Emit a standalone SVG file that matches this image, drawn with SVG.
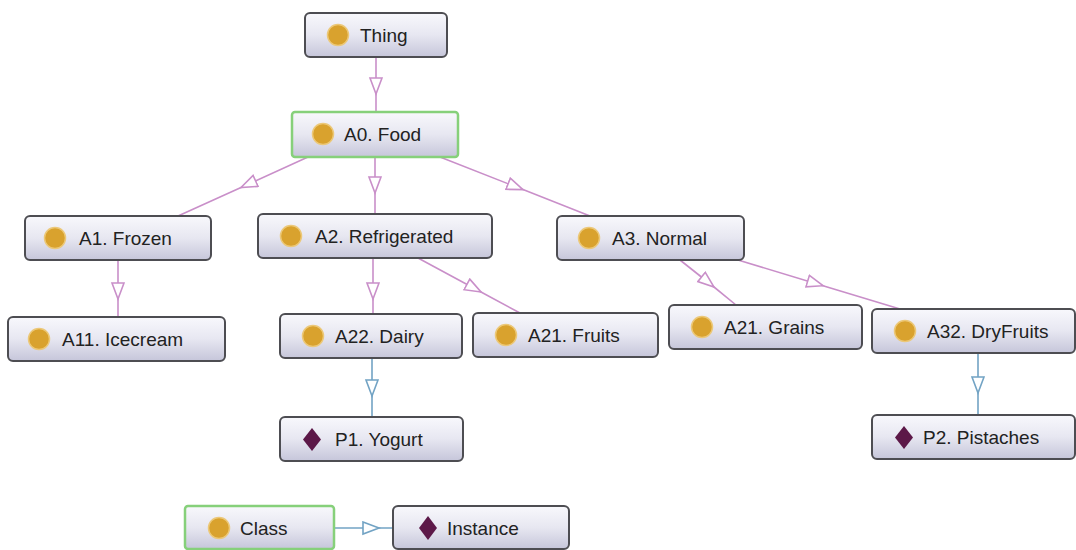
<svg xmlns="http://www.w3.org/2000/svg" width="1076" height="550" viewBox="0 0 1076 550">
<style>
.box{fill:url(#g);stroke:#4d4d52;stroke-width:2}
.sel{fill:url(#g);stroke:#86d07a;stroke-width:2.5}
.cls{fill:#d9a22e;stroke:#ecc878;stroke-width:1.5}
.ind{fill:#5c1848}
.t{font-family:"Liberation Sans",Arial,sans-serif;font-size:19px;fill:#222}
.e{fill:none;stroke:#c98fc9;stroke-width:1.6;marker-mid:url(#tp)}
.b{fill:none;stroke:#72a3c4;stroke-width:1.6;marker-mid:url(#tb)}
</style>
<defs>
<linearGradient id="g" x1="0" y1="0" x2="0" y2="1">
<stop offset="0" stop-color="#f8f8fc"/>
<stop offset="0.5" stop-color="#e7e7f1"/>
<stop offset="1" stop-color="#c6c6da"/>
</linearGradient>
<marker id="tp" markerUnits="userSpaceOnUse" markerWidth="20" markerHeight="16" refX="17" refY="7" orient="auto" viewBox="0 0 20 16">
<path d="M1,1 L17,7 L1,13 Z" fill="#fff" stroke="#c98fc9" stroke-width="1.6"/>
</marker>
<marker id="tb" markerUnits="userSpaceOnUse" markerWidth="20" markerHeight="16" refX="17" refY="7" orient="auto" viewBox="0 0 20 16">
<path d="M1,1 L17,7 L1,13 Z" fill="#fff" stroke="#72a3c4" stroke-width="1.6"/>
</marker>
</defs>
<rect width="1076" height="550" fill="#fff"/>
<g id="connectors">
<path class="e" d="M376,57 L376,94 L376,112"/>
<path class="e" d="M308,157 L241,187.5 L178,216"/>
<path class="e" d="M375,157 L375,193 L375,214"/>
<path class="e" d="M440,157 L523,189.6 L590,216"/>
<path class="e" d="M118,260 L118,299 L118,317"/>
<path class="e" d="M373,258 L373,299 L373,314"/>
<path class="e" d="M418,258 L481,292 L520,313"/>
<path class="e" d="M680,260 L714,287 L736,305"/>
<path class="e" d="M738,260 L823,285.7 L900,309"/>
<path class="b" d="M978,353 L978,393 L978,415"/>
<path class="b" d="M372,358 L372,396 L372,417"/>
<path class="b" d="M334,528 L379,528 L393,528"/>
</g>
<g id="thing"><rect class="box" x="305" y="13" width="142" height="44" rx="5"/><circle class="cls" cx="338" cy="35" r="10.5"/><text class="t" x="360" y="42">Thing</text></g>
<g id="food"><rect class="sel" x="292" y="112" width="166" height="45" rx="3"/><circle class="cls" cx="323" cy="134" r="10.5"/><text class="t" x="344" y="141">A0. Food</text></g>
<g id="frozen"><rect class="box" x="25" y="216" width="186" height="44" rx="5"/><circle class="cls" cx="55" cy="238" r="10.5"/><text class="t" x="79" y="245">A1. Frozen</text></g>
<g id="refrigerated"><rect class="box" x="258" y="214" width="234" height="44" rx="5"/><circle class="cls" cx="291" cy="236" r="10.5"/><text class="t" x="315" y="243">A2. Refrigerated</text></g>
<g id="normal"><rect class="box" x="557" y="216" width="187" height="44" rx="5"/><circle class="cls" cx="589" cy="238" r="10.5"/><text class="t" x="612" y="245">A3. Normal</text></g>
<g id="icecream"><rect class="box" x="8" y="317" width="217" height="44" rx="5"/><circle class="cls" cx="39" cy="339" r="10.5"/><text class="t" x="62" y="346">A11. Icecream</text></g>
<g id="dairy"><rect class="box" x="280" y="314" width="182" height="44" rx="5"/><circle class="cls" cx="313" cy="336" r="10.5"/><text class="t" x="335" y="343">A22. Dairy</text></g>
<g id="fruits"><rect class="box" x="473" y="313" width="185" height="44" rx="5"/><circle class="cls" cx="506" cy="335" r="10.5"/><text class="t" x="528" y="342">A21. Fruits</text></g>
<g id="grains"><rect class="box" x="669" y="305" width="193" height="44" rx="5"/><circle class="cls" cx="702" cy="327" r="10.5"/><text class="t" x="724" y="334">A21. Grains</text></g>
<g id="dryfruits"><rect class="box" x="872" y="309" width="203" height="44" rx="5"/><circle class="cls" cx="905" cy="331" r="10.5"/><text class="t" x="927" y="338">A32. DryFruits</text></g>
<g id="yogurt"><rect class="box" x="280" y="417" width="183" height="44" rx="5"/><path class="ind" d="M312,428 L321,439.5 L312,451 L303,439.5 Z"/><text class="t" x="335" y="446">P1. Yogurt</text></g>
<g id="pistaches"><rect class="box" x="872" y="415" width="203" height="44" rx="5"/><path class="ind" d="M904,426 L913,437.5 L904,449 L895,437.5 Z"/><text class="t" x="923" y="444">P2. Pistaches</text></g>
<g id="class"><rect class="sel" x="185" y="506" width="149" height="43" rx="3"/><circle class="cls" cx="219" cy="528" r="10.5"/><text class="t" x="240" y="535">Class</text></g>
<g id="instance"><rect class="box" x="393" y="506" width="176" height="43" rx="5"/><path class="ind" d="M428,516 L437,528 L428,540 L419,528 Z"/><text class="t" x="447" y="535">Instance</text></g>
</svg>
